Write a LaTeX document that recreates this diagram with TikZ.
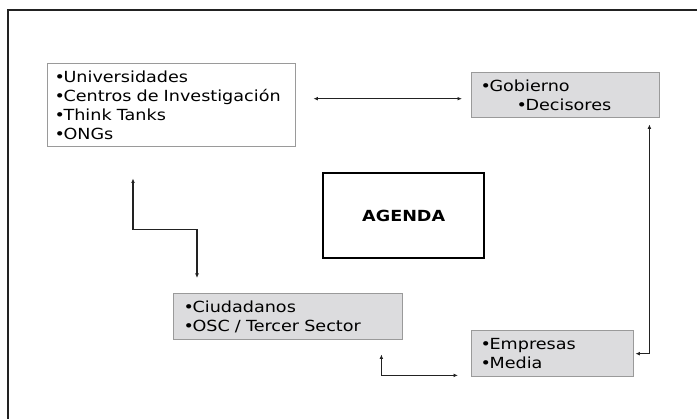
\documentclass[tikz,border=0pt]{standalone}
\usepackage{fontspec}
\setmainfont{DejaVu Sans}[FakeStretch=1.15]
\usetikzlibrary{arrows.meta}

\definecolor{boxgray}{HTML}{DCDCDE}
\definecolor{edgegray}{HTML}{9A9A9A}
\definecolor{linegray}{HTML}{222222}

\newcommand{\itm}{•\kern-1.5pt}

\begin{document}
\begin{tikzpicture}[x=1pt, y=-1pt,
    actor/.style={rectangle, draw=edgegray, line width=1.4pt, anchor=north west, align=left,
      inner ysep=0pt, font=\fontsize{15.3}{19}\selectfont},
    grayactor/.style={actor, fill=boxgray},
    link/.style={draw=linegray, line width=1.3pt, {Latex[length=4.5pt,width=3.8pt]}-{Latex[length=4.5pt,width=3.8pt]}}]
  \useasboundingbox (0,0) rectangle (697,419);

  % frame
  \draw[linegray, line width=1.3pt] (8,425) -- (8,10) -- (705,10);

  % Universidades
  \node[actor, inner xsep=7pt, text width=234pt, minimum height=83pt] (univ) at (47,63)
    {\itm Universidades\\\itm Centros de Investigación\\\itm Think Tanks\\\itm ONGs};

  % Gobierno
  \node[grayactor, inner xsep=9pt, text width=170pt, minimum height=45pt] (gob) at (471,72)
    {\itm Gobierno\\\hspace*{36pt}\itm Decisores};

  % Agenda
  \node[rectangle, draw=black, line width=2.4pt, anchor=north west, minimum width=161pt,
    minimum height=85pt, font=\fontsize{15.3}{19}\selectfont\bfseries] (agenda) at (322,172) {AGENDA};

  % Ciudadanos
  \node[grayactor, inner xsep=10pt, text width=209pt, minimum height=46pt] (ciud) at (173,293)
    {\itm Ciudadanos\\\itm OSC / Tercer Sector};

  % Empresas
  \node[grayactor, inner xsep=9pt, text width=144pt, minimum height=46pt] (emp) at (471,330)
    {\itm Empresas\\\itm Media};

  % Links
  \draw[link] ([shift={(17,-6.5)}]univ.east) -- ([shift={(-9,3.5)}]gob.west);
  \draw[link] ([shift={(86,31)}]univ.south west) -- ++(0,51) -| ([shift={(24,-15)}]ciud.north west);
  \draw[link] ([shift={(-11,6)}]gob.south east) |- ([xshift=1pt]emp.east);
  \draw[link] ([shift={(-22,14)}]ciud.south east) |- ([shift={(-13,-2)}]emp.south west);
\end{tikzpicture}
\end{document}
